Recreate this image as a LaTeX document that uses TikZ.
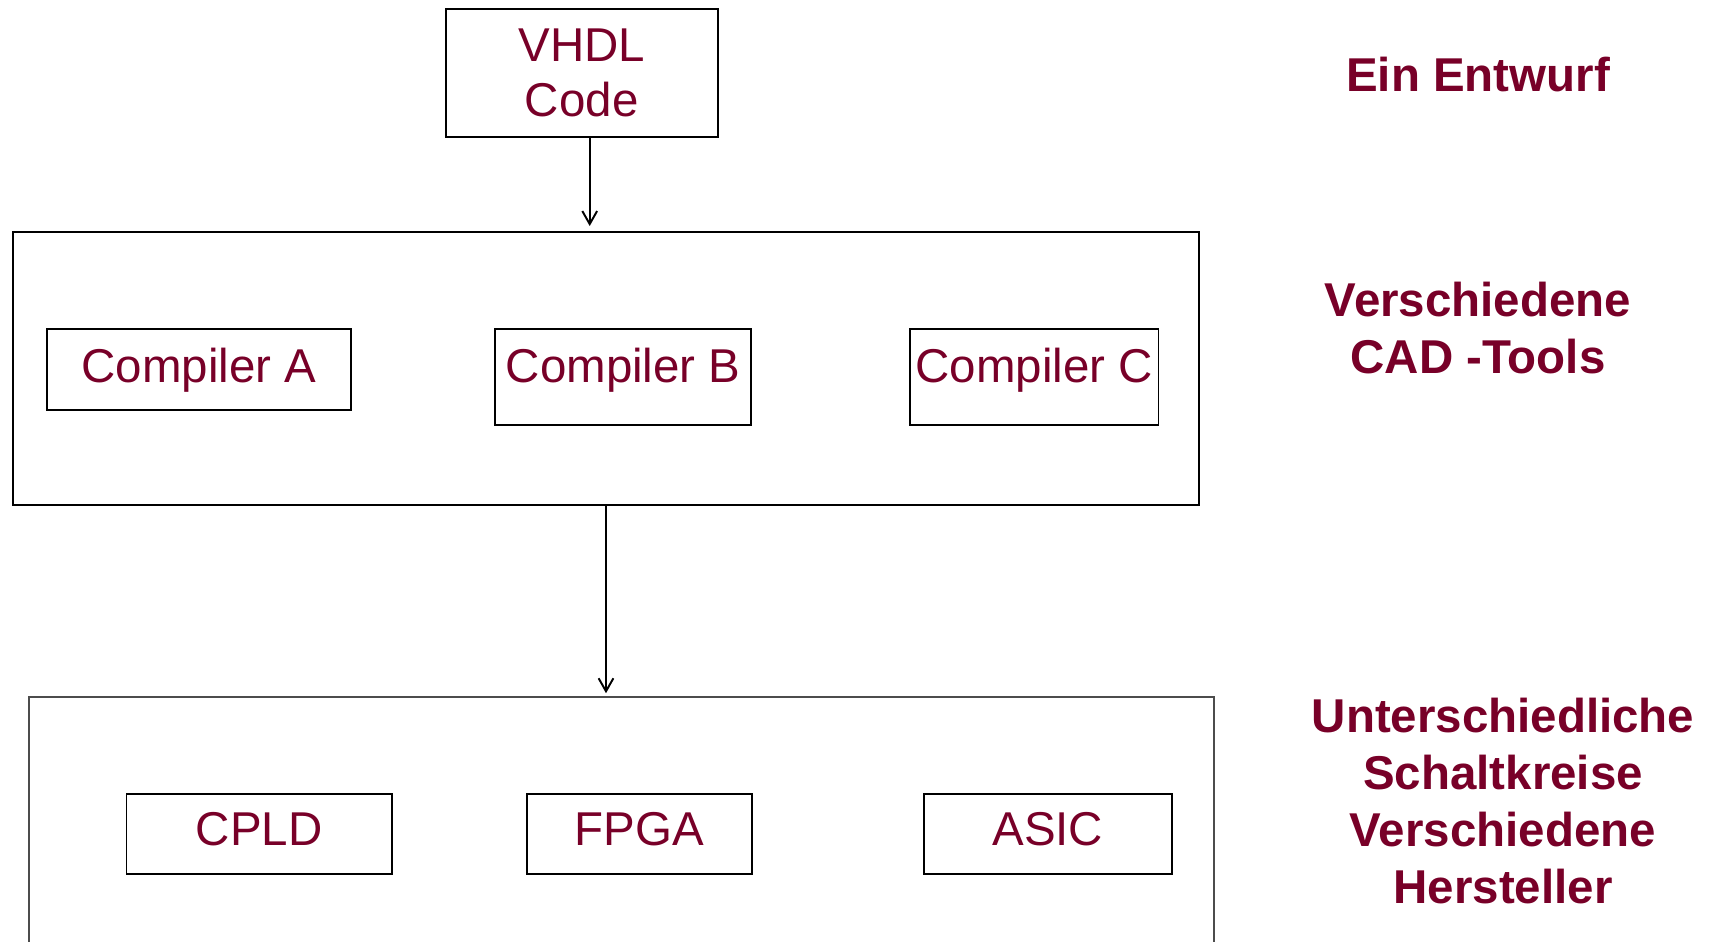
\documentclass[tikz,border=0pt]{standalone}
\usepackage{fontspec}
\setmainfont{Liberation Sans}
\usetikzlibrary{positioning,arrows.meta}
\definecolor{dkred}{RGB}{120,0,40}

\begin{document}
\begin{tikzpicture}[x=0.01cm,y=-0.01cm]
\tikzstyle{frame}=[draw,line width=0.55pt,inner sep=0pt]
\tikzstyle{box}=[draw,line width=0.55pt,inner sep=0pt,text=dkred,font=\fontsize{13.5}{15.6}\selectfont]
\tikzstyle{side}=[text=dkred,align=center,font=\fontsize{13.5}{16.2}\selectfont\bfseries]
\tikzstyle{arr}=[line width=0.55pt,-{Straight Barb[length=3.7pt,width=4.2pt]}]
\useasboundingbox (0,0) rectangle (1711,942);
% frames
\node [frame,minimum width=11.86cm,minimum height=2.73cm] (tools) at (606,368.5) {};
\node [frame,draw=black!70,line width=0.4pt,minimum width=11.84cm,minimum height=3cm] (chips) at (621.5,847) {};
% boxes
\node [box,align=center,minimum width=2.72cm,minimum height=1.277cm] (vhdl) at (581.7,72.9) {VHDL\\Code};
\node [box,anchor=north west,minimum width=3.04cm,text height=15.28pt,text depth=7.77pt] (ca) at (46,328) {Compiler A};
\node [box,minimum width=2.56cm,text height=15.28pt,text depth=12.04pt,base right=1.42cm of ca] (cb) {Compiler B};
\node [box,minimum width=2.48cm,text height=15.28pt,text depth=12.04pt,base right=1.57cm of cb] (cc) {Compiler C};
\node [box,anchor=north west,minimum width=2.65cm,text height=14.51pt,text depth=8.34pt] (cpld) at (125.5,793) {CPLD};
\node [box,minimum width=2.25cm,text height=14.51pt,text depth=8.34pt,base right=1.33cm of cpld] (fpga) {FPGA};
\node [box,minimum width=2.48cm,text height=14.51pt,text depth=8.34pt,base right=1.70cm of fpga] (asic) {ASIC};
% side texts (base = last line)
\node [side,anchor=base] (t1) at (1478,91.7) {Ein Entwurf};
\node [side,anchor=base] (t2) at (1478,373.3) {Verschiedene\\CAD -Tools};
\node [side,anchor=base] (t3) at (1503,903.3) {Unterschiedliche\\Schaltkreise\\Verschiedene\\Hersteller};
% arrows
\coordinate (a1) at ([xshift=0.08cm]vhdl.south);
\draw [arr,shorten >=1.4pt] (a1) -- (a1 |- tools.north);
\draw [arr,shorten >=0.85pt] (tools.south) -- (tools.south |- chips.north);
\end{tikzpicture}
\end{document}
